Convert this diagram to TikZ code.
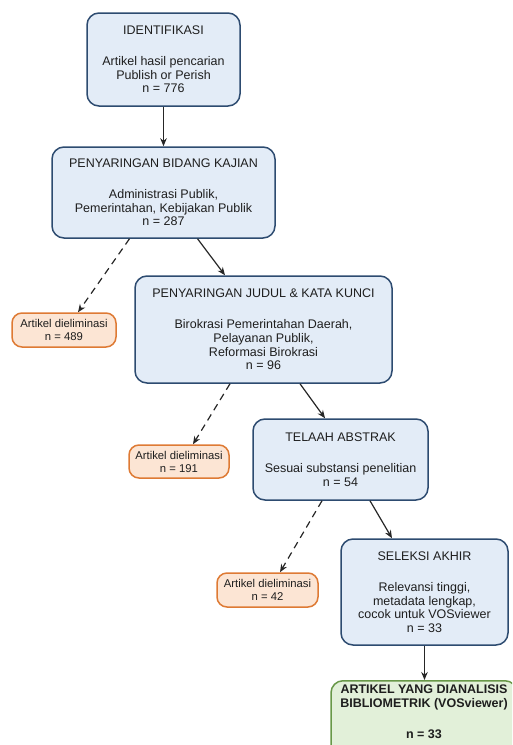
\documentclass[tikz,border=0pt]{standalone}
\usepackage{fontspec}
\setmainfont{Liberation Sans}
\usetikzlibrary{arrows.meta,calc}
\definecolor{bfill}{RGB}{227,236,247}
\definecolor{bdraw}{RGB}{45,75,112}
\definecolor{ofill}{RGB}{252,229,212}
\definecolor{odraw}{RGB}{222,122,52}
\definecolor{gfill}{RGB}{226,240,217}
\definecolor{gdraw}{RGB}{104,152,72}
\definecolor{txt}{RGB}{30,30,30}
\begin{document}
\begin{tikzpicture}[x=1pt,y=-1pt,
  stagebox/.style={draw=bdraw,fill=bfill,line width=1.5pt,rounded corners=12pt,
    align=center,inner sep=0pt,text=txt,font=\fontsize{12.5}{13.6}\selectfont},
  elimbox/.style={draw=odraw,fill=ofill,line width=1.5pt,rounded corners=10pt,
    align=center,inner sep=0pt,text=txt,font=\fontsize{11.3}{13}\selectfont},
  finalbox/.style={draw=gdraw,fill=gfill,line width=1.5pt,rounded corners=12pt,inner sep=0pt},
  arr/.style={-{Stealth[length=8pt,width=6.5pt]},line width=1.2pt,black!85},
  darr/.style={arr,dash pattern=on 7pt off 5pt}]
\useasboundingbox (0,0) rectangle (512,745);
\begin{scope}
\clip (0,0) rectangle (512,745);
\node[stagebox,minimum width=153pt,minimum height=93pt] (b1) at (163.5,59.5)
  {IDENTIFIKASI\\[17.5pt]Artikel hasil pencarian\\Publish or Perish\\n = 776};
\node[stagebox,minimum width=223pt,minimum height=91pt] (b2) at (163.5,192.5)
  {PENYARINGAN BIDANG KAJIAN\\[17.5pt]Administrasi Publik,\\Pemerintahan, Kebijakan Publik\\n = 287};
\node[elimbox,minimum width=104pt,minimum height=34pt] (e1) at (64,330)
  {Artikel dieliminasi\\n = 489};
\node[stagebox,minimum width=257pt,minimum height=107pt] (b4) at (263.5,329.5)
  {PENYARINGAN JUDUL \& KATA KUNCI\\[17.5pt]Birokrasi Pemerintahan Daerah,\\Pelayanan Publik,\\Reformasi Birokrasi\\n = 96};
\node[elimbox,minimum width=100pt,minimum height=33pt] (e2) at (179,461.5)
  {Artikel dieliminasi\\n = 191};
\node[stagebox,minimum width=175pt,minimum height=81pt] (b6) at (340.5,459.5)
  {TELAAH ABSTRAK\\[17.5pt]Sesuai substansi penelitian\\n = 54};
\node[elimbox,minimum width=101pt,minimum height=34pt] (e3) at (267.5,590)
  {Artikel dieliminasi\\n = 42};
\node[stagebox,minimum width=167pt,minimum height=106pt] (b8) at (424.5,592)
  {SELEKSI AKHIR\\[17.5pt]Relevansi tinggi,\\metadata lengkap,\\cocok untuk VOSviewer\\n = 33};
\node[finalbox,minimum width=186pt,minimum height=82pt,anchor=north] (fin) at (424,680) {};
\node[align=center,inner sep=0pt,text=txt,font=\fontsize{12.5}{13.6}\selectfont\bfseries,anchor=north] (fintext) at (424,685)
  {ARTIKEL YANG DIANALISIS\\BIBLIOMETRIK (VOSviewer)\\[17.5pt]n = 33};
\end{scope}
\draw[arr] (b1.south) -- (b2.north);
\draw[arr] ([xshift=34pt]b2.south) -- ([xshift=-38.5pt]b4.north);
\draw[darr] ([xshift=-34pt]b2.south) -- ([xshift=14pt]e1.north);
\draw[arr] ([xshift=36.5pt]b4.south) -- ([xshift=-15.5pt]b6.north);
\draw[darr] ([xshift=-33.5pt]b4.south) -- ([xshift=14pt]e2.north);
\draw[arr] ([xshift=29.5pt]b6.south) -- ([xshift=-32.5pt]b8.north);
\draw[darr] ([xshift=-18.5pt]b6.south) -- ([xshift=12.5pt]e3.north);
\draw[arr] (b8.south) -- (b8.south |- fin.north);
\end{tikzpicture}
\end{document}
